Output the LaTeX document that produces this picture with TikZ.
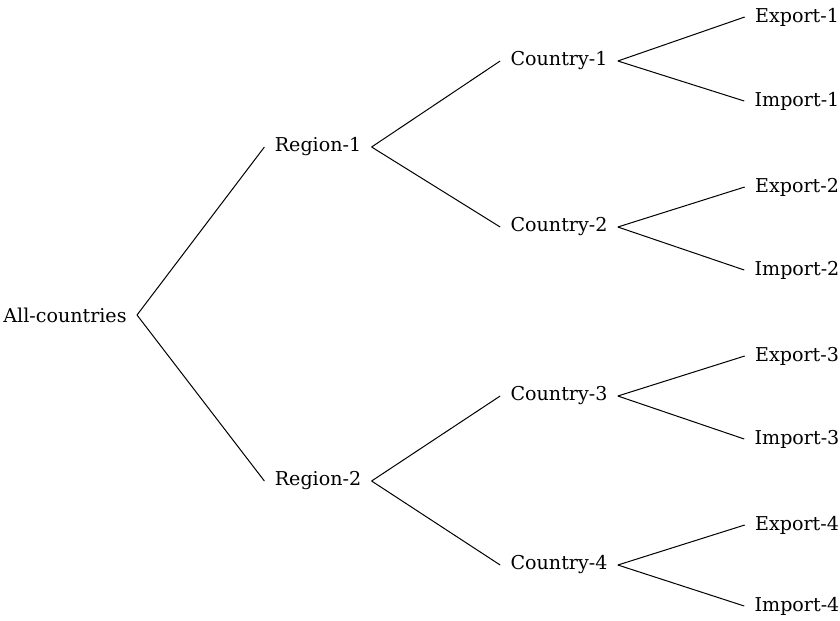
\documentclass[tikz,border=0pt]{standalone}
\usepackage{fontspec}
\setmainfont{DejaVu Serif}
\usepackage{tikz}

\begin{document}
\begin{tikzpicture}[x=0.0175cm, y=-0.0175cm, item/.style={inner sep=5pt, font=\fontsize{9.5}{11}\selectfont}]
\useasboundingbox (0,0) rectangle (840,620);
% Root and regions
\node[item] (all) at (65,315) {All-countries};
\node[item] (reg1) at (318,147) {Region-1};
\node[item] (reg2) at (318,481) {Region-2};

% Countries
\node[item] (c1) at (559,61) {Country-1};
\node[item] (c2) at (559,227) {Country-2};
\node[item] (c3) at (559,396) {Country-3};
\node[item] (c4) at (559,565) {Country-4};

% Trade leaves
\node[item] (ex1) at (797,17) {Export-1};
\node[item] (im1) at (797,101) {Import-1};
\node[item] (ex2) at (797,187) {Export-2};
\node[item] (im2) at (797,270) {Import-2};
\node[item] (ex3) at (797,356) {Export-3};
\node[item] (im3) at (797,439) {Import-3};
\node[item] (ex4) at (797,525) {Export-4};
\node[item] (im4) at (797,606) {Import-4};

% Branches
\draw[line width=0.5pt] (all.east) -- (reg1.west);
\draw[line width=0.5pt] (all.east) -- (reg2.west);
\draw[line width=0.5pt] (reg1.east) -- (c1.west);
\draw[line width=0.5pt] (reg1.east) -- (c2.west);
\draw[line width=0.5pt] (reg2.east) -- (c3.west);
\draw[line width=0.5pt] (reg2.east) -- (c4.west);
\draw[line width=0.5pt] (c1.east) -- (ex1.west);
\draw[line width=0.5pt] (c1.east) -- (im1.west);
\draw[line width=0.5pt] (c2.east) -- (ex2.west);
\draw[line width=0.5pt] (c2.east) -- (im2.west);
\draw[line width=0.5pt] (c3.east) -- (ex3.west);
\draw[line width=0.5pt] (c3.east) -- (im3.west);
\draw[line width=0.5pt] (c4.east) -- (ex4.west);
\draw[line width=0.5pt] (c4.east) -- (im4.west);
\end{tikzpicture}
\end{document}
